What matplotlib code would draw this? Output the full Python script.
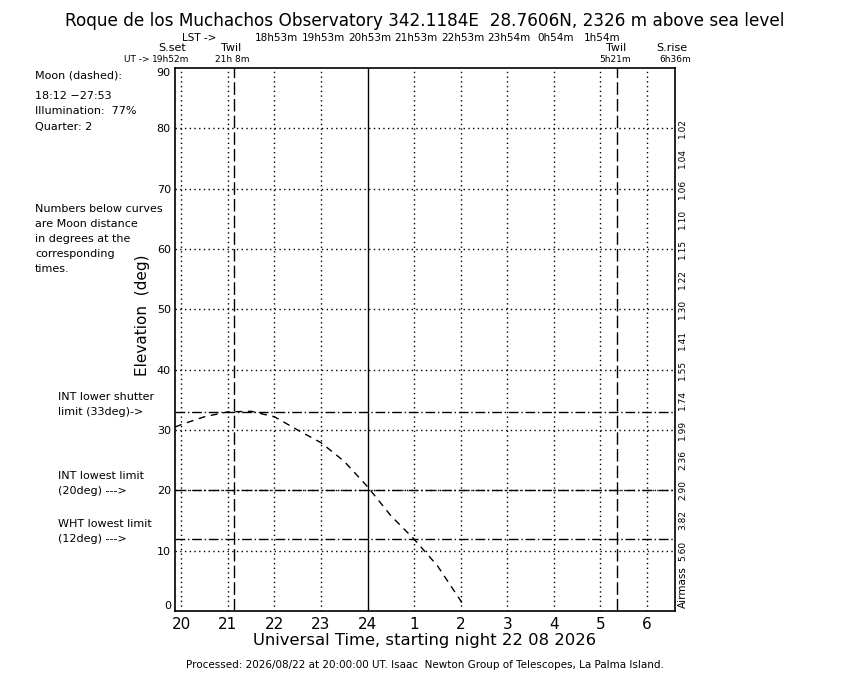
import numpy as np
import matplotlib
matplotlib.use("Agg")
import matplotlib.pyplot as plt

plt.rcParams['font.family'] = ['DejaVu Sans']

# moon elevation track (UT hours, 24+ = after midnight)
moon_ut = [19.87, 20.0, 20.5, 21.0, 21.5, 22.0, 22.5, 23.0, 23.5, 24.0, 24.5, 25.0, 25.5, 26.0, 26.05]
moon_alt = [30.5, 30.9, 32.2, 33.0, 33.1, 32.2, 30.0, 27.9, 24.8, 20.6, 15.8, 11.9, 7.5, 1.7, 0.8]

sunset, sunrise = 19.867, 30.6
twil_eve, twil_morn = 21.133, 29.35
limits = [33, 20, 12]

hour_ticks = list(range(20, 31))
hour_labels = ['20', '21', '22', '23', '24', '1', '2', '3', '4', '5', '6']
lst_labels = ['18h53m', '19h53m', '20h53m', '21h53m', '22h53m', '23h54m', '0h54m', '1h54m']
airmass_alt = [80, 75, 70, 65, 60, 55, 50, 45, 40, 35, 30, 25, 20, 15, 10]
airmass_labels = ['1.02', '1.04', '1.06', '1.10', '1.15', '1.22', '1.30', '1.41',
                  '1.55', '1.74', '1.99', '2.36', '2.90', '3.82', '5.60']

W, H = 850, 680
fig = plt.figure(figsize=(8.5, 6.8), dpi=100)
ax = fig.add_axes([175 / W, 1 - 611 / H, 500 / W, 543 / H])


def ftext(x, y, s, **kw):
    # pixel coords from top-left
    fig.text(x / W, 1 - y / H, s, **kw)


ax.set_xlim(sunset, sunrise)
ax.set_ylim(0, 90)

dotted = (0, (1, 2.4))
for h in hour_ticks:
    if h == 24:
        ax.axvline(h, color='black', lw=1.0)
    else:
        ax.axvline(h, color='black', lw=1.0, ls=dotted)
for e in range(10, 90, 10):
    ax.axhline(e, color='black', lw=1.0, ls=dotted)
for e in limits:
    ax.axhline(e, color='black', lw=1.0, ls=(0, (7, 2, 1, 2)))
for t in [twil_eve, twil_morn]:
    ax.axvline(t, color='black', lw=1.0, ls=(0, (9, 3)))

ax.plot(moon_ut, moon_alt, color='black', lw=1.0, ls=(0, (5, 4)))

for s in ax.spines.values():
    s.set_linewidth(1.2)

ax.set_xticks(hour_ticks)
ax.set_xticklabels(hour_labels, fontsize=11)
ax.set_yticks(range(0, 91, 10))
ax.set_yticklabels([str(v) for v in range(0, 91, 10)], fontsize=8)
ax.tick_params(length=0, pad=3)
ax.tick_params(axis='x', pad=4.5)
ylabs = ax.get_yticklabels()
ylabs[0].set_va('bottom')
ylabs[-1].set_va('top')

for a, lab in zip(airmass_alt, airmass_labels):
    ax.text(1.006, a, lab, transform=ax.get_yaxis_transform(), rotation=90,
            ha='left', va='center', fontsize=6.5)
ax.text(1.006, 0.5, 'Airmass', transform=ax.get_yaxis_transform(), rotation=90,
        ha='left', va='bottom', fontsize=7.5)

ftext(425, 21, 'Roque de los Muchachos Observatory 342.1184E  28.7606N, 2326 m above sea level',
      ha='center', va='center', fontsize=12.2)

ftext(182, 38, 'LST ->', ha='left', va='center', fontsize=7.5)
for i, lab in enumerate(lst_labels):
    xp = 175 + (22 + i - sunset) * 500 / (sunrise - sunset) + 2
    ftext(xp, 38, lab, ha='center', va='center', fontsize=7.5)

ftext(172, 48, 'S.set', ha='center', va='center', fontsize=8)
ftext(231, 48, 'Twil', ha='center', va='center', fontsize=8)
ftext(616, 48, 'Twil', ha='center', va='center', fontsize=8)
ftext(672, 48, 'S.rise', ha='center', va='center', fontsize=8)
ftext(124, 60, 'UT ->', ha='left', va='center', fontsize=6.5)
ftext(171, 60, '19h52m', ha='center', va='center', fontsize=6.5)
ftext(232, 60, '21h 8m', ha='center', va='center', fontsize=6.5)
ftext(615, 60, '5h21m', ha='center', va='center', fontsize=6.5)
ftext(675, 60, '6h36m', ha='center', va='center', fontsize=6.5)

left_lines = [(75, 'Moon (dashed):'), (96, '18:12 \u221227:53'), (111, 'Illumination:  77%'),
              (127, 'Quarter: 2'), (209, 'Numbers below curves'), (224, 'are Moon distance'),
              (239, 'in degrees at the'), (254, 'corresponding'), (269, 'times.')]
for yp, s in left_lines:
    ftext(35, yp, s, ha='left', va='center', fontsize=8)

limit_lines = [(397, 'INT lower shutter'), (412, 'limit (33deg)->'),
               (476, 'INT lowest limit'), (491, '(20deg) --->'),
               (524, 'WHT lowest limit'), (539, '(12deg) --->')]
for yp, s in limit_lines:
    ftext(58, yp, s, ha='left', va='center', fontsize=8)

ftext(143, 315, 'Elevation  (deg)', ha='center', va='center', rotation=90, fontsize=11)
ftext(425, 644.5, 'Universal Time, starting night 22 08 2026', ha='center', va='baseline', fontsize=11.8)
ftext(425, 665, 'Processed: 2026/08/22 at 20:00:00 UT. Isaac  Newton Group of Telescopes, La Palma Island.',
      ha='center', va='center', fontsize=7.5)

fig.savefig('out.png', dpi=100)
